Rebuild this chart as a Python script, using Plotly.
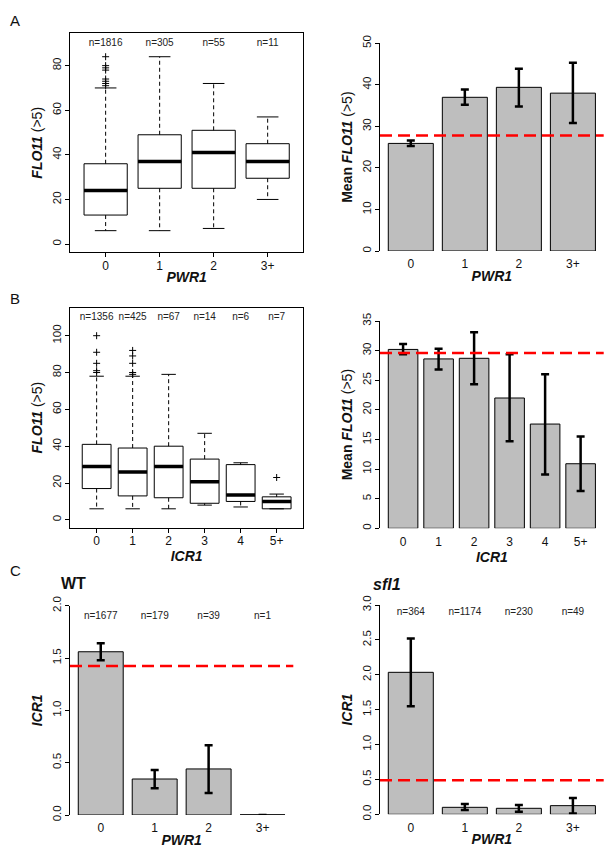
import plotly.graph_objects as go

W, H = 614, 852
FONT = "Liberation Sans, Arial, Helvetica, sans-serif"
BAR_GREY = "#BEBEBE"
RED = "#FF0000"

# ---------------- Data ----------------
# Panel A (PWR1 copy number vs FLO11)
pwr_cats = ["0", "1", "2", "3+"]
a_n = ["n=1816", "n=305", "n=55", "n=11"]
a_low = [6, 6, 7, 20]
a_q1 = [13, 25, 25, 29.5]
a_med = [24, 37, 41, 37]
a_q3 = [36, 49, 51, 45]
a_high = [70, 84, 72, 57]
a_out_x = [0, 0, 0, 0, 0, 0, 0, 0]
a_out_y = [84, 80, 79, 78, 74, 73, 72, 71]

a_mean = [25.9, 37.0, 39.4, 38.0]
a_err_hi = [26.6, 38.9, 43.9, 45.3]
a_err_lo = [25.3, 35.2, 34.8, 30.8]
a_overall = 27.8

# Panel B (ICR1 vs FLO11)
icr_cats = ["0", "1", "2", "3", "4", "5+"]
b_n = ["n=1356", "n=425", "n=67", "n=14", "n=6", "n=7"]
b_low = [6, 6, 6, 8, 7, 6]
b_q1 = [17, 13, 12, 9, 10, 6]
b_med = [29, 26, 29, 20.7, 13.5, 10]
b_q3 = [41, 39, 40, 33, 30, 12.5]
b_high = [78, 78, 79, 47, 31, 14]
b_out_x = [0, 0, 0, 0, 0, 1, 1, 1, 1, 1, 5]
b_out_y = [100, 91, 85, 81, 80, 92, 89, 85, 80, 79, 23]

b_mean = [30.2, 28.6, 28.7, 22.0, 17.6, 10.9]
b_err_hi = [31.1, 30.3, 33.1, 29.4, 26.0, 15.5]
b_err_lo = [29.4, 26.8, 24.3, 14.7, 9.1, 6.3]
b_overall = 29.6

# Panel C (PWR1 vs ICR1) WT and sfl1
c_wt_n = ["n=1677", "n=179", "n=39", "n=1"]
c_wt_mean = [1.56, 0.344, 0.44, 0.0]
c_wt_err_hi = [1.64, 0.43, 0.666, None]
c_wt_err_lo = [1.478, 0.255, 0.21, None]
c_wt_overall = 1.424

c_sfl_n = ["n=364", "n=1174", "n=230", "n=49"]
c_sfl_mean = [2.035, 0.10, 0.086, 0.124]
c_sfl_err_hi = [2.52, 0.148, 0.134, 0.234]
c_sfl_err_lo = [1.55, 0.062, 0.038, 0.01]
c_sfl_overall = 0.487

# ---------------- Figure ----------------
fig = go.Figure()


def dom_x(l, r):
    return [l / W, r / W]


def dom_y(t, b):
    return [1 - b / H, 1 - t / H]


def add_box_panel(k, cats, low, q1, med, q3, high, out_x, out_y, ns, n_y):
    xs = list(range(len(cats)))
    xa, ya = f"x{k}", f"y{k}"
    fig.add_trace(go.Box(
        x=xs, q1=q1, median=med, q3=q3, lowerfence=q1, upperfence=q3,
        width=0.8, whiskerwidth=0, fillcolor="white",
        line=dict(color="black", width=1), boxpoints=False,
        xaxis=xa, yaxis=ya, hoverinfo="skip"))
    wx, wy, cx, cy, mx, my = [], [], [], [], [], []
    for i in xs:
        wx += [i, i, None, i, i, None]
        wy += [q3[i], high[i], None, q1[i], low[i], None]
        cx += [i - 0.2, i + 0.2, None, i - 0.2, i + 0.2, None]
        cy += [high[i], high[i], None, low[i], low[i], None]
        mx += [i - 0.4, i + 0.4, None]
        my += [med[i], med[i], None]
    fig.add_trace(go.Scatter(x=wx, y=wy, mode="lines",
                             line=dict(color="black", width=1, dash="4px,3px"),
                             xaxis=xa, yaxis=ya, hoverinfo="skip"))
    fig.add_trace(go.Scatter(x=cx, y=cy, mode="lines",
                             line=dict(color="black", width=1),
                             xaxis=xa, yaxis=ya, hoverinfo="skip"))
    fig.add_trace(go.Scatter(x=mx, y=my, mode="lines",
                             line=dict(color="black", width=3.5),
                             xaxis=xa, yaxis=ya, hoverinfo="skip"))
    fig.add_trace(go.Scatter(x=out_x, y=out_y, mode="markers",
                             marker=dict(symbol="cross-thin", size=5,
                                         line=dict(color="black", width=1)),
                             xaxis=xa, yaxis=ya, hoverinfo="skip"))
    fig.add_trace(go.Scatter(x=xs, y=[n_y] * len(xs), mode="text", text=ns,
                             textfont=dict(size=10, color="#222", family=FONT),
                             xaxis=xa, yaxis=ya, hoverinfo="skip"))


def add_bar_panel(k, cats, mean, hi, lo, overall, ns=None, n_y=None):
    xs = list(range(len(cats)))
    xa, ya = f"x{k}", f"y{k}"
    plus = [None if h is None else h - m for h, m in zip(hi, mean)]
    minus = [None if l is None else m - l for l, m in zip(lo, mean)]
    fig.add_trace(go.Bar(
        x=xs, y=mean, width=0.833,
        marker=dict(color=BAR_GREY, line=dict(color="black", width=1)),
        error_y=dict(type="data", symmetric=False, array=plus, arrayminus=minus,
                     color="black", thickness=2.5, width=4),
        xaxis=xa, yaxis=ya, hoverinfo="skip"))
    # zero-height bars are drawn as flat outlines
    zx, zy = [], []
    for i in xs:
        if mean[i] == 0:
            zx += [i - 0.4165, i + 0.4165, None]
            zy += [mean[i], mean[i], None]
    if zx:
        fig.add_trace(go.Scatter(x=zx, y=zy, mode="lines",
                                 line=dict(color="black", width=1),
                                 xaxis=xa, yaxis=ya, hoverinfo="skip"))
    if ns:
        fig.add_trace(go.Scatter(x=xs, y=[n_y] * len(xs), mode="text", text=ns,
                                 textfont=dict(size=10, color="#222", family=FONT),
                                 xaxis=xa, yaxis=ya, hoverinfo="skip"))
    fig.add_shape(type="line", xref=f"x{k} domain", x0=0, x1=1,
                  yref=ya, y0=overall, y1=overall,
                  line=dict(color=RED, width=2.5, dash="12px,6px"))


add_box_panel(1, pwr_cats, a_low, a_q1, a_med, a_q3, a_high, a_out_x, a_out_y, a_n, 90)
add_bar_panel(2, pwr_cats, a_mean, a_err_hi, a_err_lo, a_overall)
add_box_panel(3, icr_cats, b_low, b_q1, b_med, b_q3, b_high, b_out_x, b_out_y, b_n, 110)
add_bar_panel(4, icr_cats, b_mean, b_err_hi, b_err_lo, b_overall)
add_bar_panel(5, pwr_cats, c_wt_mean, c_wt_err_hi, c_wt_err_lo, c_wt_overall, c_wt_n, 1.895)
add_bar_panel(6, pwr_cats, c_sfl_mean, c_sfl_err_hi, c_sfl_err_lo, c_sfl_overall, c_sfl_n, 2.895)

XTICKFONT = dict(family=FONT, size=12, color="#111")
YTICKFONT = dict(family=FONT, size=11.5, color="#111")
TITLEFONT = dict(family=FONT, size=14, color="#111")
Y_LABEL_SHIFT = -1
X_LABEL_SHIFT = -2


def box_axes(dx, dy, xr, yr, cats, xtitle, ytitle, ytickvals):
    xa = dict(domain=dom_x(*dx), range=xr, tickvals=list(range(len(cats))), ticktext=cats,
              showline=True, mirror=True, linecolor="black", linewidth=1,
              ticks="outside", ticklen=4, tickcolor="black", tickwidth=1,
              ticklabelstandoff=X_LABEL_SHIFT,
              showgrid=False, zeroline=False, tickfont=XTICKFONT,
              title=dict(text=xtitle, font=TITLEFONT, standoff=0))
    ya = dict(domain=dom_y(*dy), range=yr, tickvals=ytickvals,
              showline=True, mirror=True, linecolor="black", linewidth=1,
              ticks="outside", ticklen=4, tickcolor="black", tickwidth=1,
              tickangle=-90, ticklabelstandoff=Y_LABEL_SHIFT,
              showgrid=False, zeroline=False, tickfont=YTICKFONT,
              title=dict(text=ytitle, font=TITLEFONT, standoff=5))
    return xa, ya


def bar_axes(dx, dy, xr, yr, cats, xtitle, ytitle, ytickvals, fmt):
    xa = dict(domain=dom_x(*dx), range=xr, tickvals=list(range(len(cats))), ticktext=cats,
              showline=False, ticks="outside", ticklen=4, tickcolor="rgba(0,0,0,0)",
              ticklabelstandoff=X_LABEL_SHIFT,
              showgrid=False, zeroline=False, tickfont=XTICKFONT,
              title=dict(text=xtitle, font=TITLEFONT, standoff=0))
    ya = dict(domain=dom_y(*dy), range=yr, tickvals=ytickvals, tickformat=fmt,
              showline=True, linecolor="black", linewidth=1,
              ticks="outside", ticklen=4, tickcolor="black", tickwidth=1,
              tickangle=-90, ticklabelstandoff=Y_LABEL_SHIFT,
              showgrid=False, zeroline=False, tickfont=YTICKFONT,
              title=dict(text=ytitle, font=TITLEFONT, standoff=5))
    return xa, ya


FLO = "<b><i>FLO11</i></b> (>5)"
MFLO = "<b>Mean <i>FLO11</i></b> (>5)"
PWR = "<b><i>PWR1</i></b>"
ICR = "<b><i>ICR1</i></b>"

x1, y1 = box_axes((70, 303.3), (33.3, 252.3), [-0.66, 3.66], [-3.7, 94.5], pwr_cats, PWR, FLO,
                  [0, 20, 40, 60, 80])
x2, y2 = bar_axes((380, 603.7), (43.3, 251), [-0.57, 3.57], [0, 50], pwr_cats, PWR, MFLO,
                  [0, 10, 20, 30, 40, 50], "d")
x3, y3 = box_axes((70, 303.3), (307.7, 527.5), [-0.74, 5.74], [-4.15, 115.2], icr_cats, ICR, FLO,
                  [0, 20, 40, 60, 80, 100])
x4, y4 = bar_axes((380, 603.7), (321, 528.3), [-0.65, 5.65], [0, 35], icr_cats, ICR, MFLO,
                  [0, 5, 10, 15, 20, 25, 30, 35], "d")
x5, y5 = bar_axes((70, 293.3), (605.7, 815), [-0.57, 3.57], [0, 2], pwr_cats, PWR, ICR,
                  [0, 0.5, 1, 1.5, 2], ".1f")
x6, y6 = bar_axes((380, 603.7), (605, 814.3), [-0.57, 3.57], [0, 3], pwr_cats, PWR, ICR,
                  [0, 0.5, 1, 1.5, 2, 2.5, 3], ".1f")

layout = dict(width=W, height=H, margin=dict(l=0, r=0, t=0, b=0, autoexpand=False),
              paper_bgcolor="white", plot_bgcolor="white", showlegend=False,
              font=dict(family=FONT, color="#111"), barmode="overlay", hovermode=False)
for k, (xa, ya) in enumerate([(x1, y1), (x2, y2), (x3, y3), (x4, y4), (x5, y5), (x6, y6)], 1):
    xa["anchor"] = f"y{k}"
    ya["anchor"] = f"x{k}"
    layout[f"xaxis{'' if k == 1 else k}"] = xa
    layout[f"yaxis{'' if k == 1 else k}"] = ya


def label(text, px, py, size):
    return dict(text=text, x=px / W, y=1 - py / H, xref="paper", yref="paper",
                xanchor="center", yanchor="middle", showarrow=False,
                font=dict(family=FONT, size=size, color="#111"))


layout["annotations"] = [
    label("A", 15, 20, 15),
    label("B", 15, 298, 15),
    label("C", 15, 570, 15),
    label("<b>WT</b>", 73, 583, 16),
    label("<b><i>sfl1</i></b>", 387.5, 584, 16),
]
fig.update_layout(**layout)
fig.write_html("out.html", config={"displayModeBar": False, "staticPlot": True},
               post_script="document.body.style.margin='0';document.body.style.padding='0';")
